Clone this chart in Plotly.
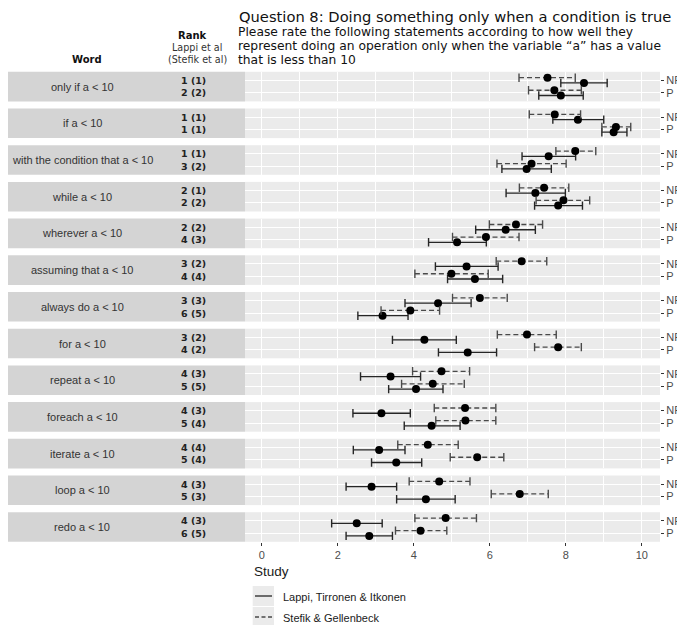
import plotly.graph_objects as go
from plotly.subplots import make_subplots

# ---------------- data ----------------
words = ["only if a < 10", "if a < 10", "with the condition that a < 10", "while a < 10",
         "wherever a < 10", "assuming that a < 10", "always do a < 10", "for a < 10",
         "repeat a < 10", "foreach a < 10", "iterate a < 10", "loop a < 10", "redo a < 10"]
rank_np = ["1 (1)", "1 (1)", "1 (1)", "2 (1)", "2 (2)", "3 (2)", "3 (3)", "3 (2)",
           "4 (3)", "4 (3)", "4 (4)", "4 (3)", "4 (3)"]
rank_p = ["2 (2)", "1 (1)", "3 (2)", "2 (2)", "4 (3)", "4 (4)", "6 (5)", "4 (2)",
          "5 (5)", "5 (4)", "5 (4)", "5 (3)", "6 (5)"]
conditions = ["NP", "P"]
studies = ["Lappi, Tirronen & Itkonen", "Stefik & Gellenbeck"]

# Stefik & Gellenbeck (dashed)
stefik_np_mean = [7.52, 7.71, 8.25, 7.43, 6.69, 6.84, 5.74, 6.98, 4.73, 5.35, 4.37, 4.67, 4.84]
stefik_np_lo   = [6.77, 7.04, 7.74, 6.78, 5.99, 6.17, 5.02, 6.20, 3.97, 4.54, 3.58, 3.88, 4.03]
stefik_np_hi   = [8.25, 8.39, 8.79, 8.08, 7.39, 7.50, 6.46, 7.75, 5.47, 6.16, 5.17, 5.48, 5.65]
stefik_p_mean  = [7.70, 9.32, 7.10, 7.94, 5.90, 4.99, 3.91, 7.80, 4.50, 5.36, 5.67, 6.79, 4.18]
stefik_p_lo    = [7.02, 8.95, 6.19, 7.22, 5.02, 4.03, 3.14, 7.18, 3.68, 4.58, 4.96, 6.04, 3.52]
stefik_p_hi    = [8.41, 9.71, 8.01, 8.63, 6.77, 5.96, 4.68, 8.41, 5.33, 6.16, 6.37, 7.54, 4.87]
# Lappi, Tirronen & Itkonen (solid)
lappi_np_mean  = [8.48, 8.32, 7.55, 7.20, 6.42, 5.39, 4.64, 4.28, 3.39, 3.15, 3.09, 2.89, 2.50]
lappi_np_lo    = [7.87, 7.66, 6.85, 6.43, 5.63, 4.57, 3.77, 3.44, 2.60, 2.40, 2.41, 2.22, 1.84]
lappi_np_hi    = [9.09, 9.00, 8.26, 7.99, 7.20, 6.22, 5.51, 5.12, 4.18, 3.91, 3.77, 3.55, 3.17]
lappi_p_mean   = [7.87, 9.26, 6.97, 7.80, 5.14, 5.61, 3.18, 5.42, 4.06, 4.47, 3.54, 4.32, 2.83]
lappi_p_lo     = [7.29, 8.95, 6.32, 7.18, 4.39, 4.89, 2.53, 4.65, 3.34, 3.75, 2.89, 3.55, 2.22]
lappi_p_hi     = [8.46, 9.61, 7.62, 8.44, 5.91, 6.34, 3.85, 6.18, 4.77, 5.22, 4.21, 5.09, 3.44]

x_ticks = [0, 2, 4, 6, 8, 10]

# ---------------- layout constants ----------------
PAGE_OFF = 8            # default body margin of the html page
W, H = 685 - PAGE_OFF, 625 - PAGE_OFF
n = len(words)
TOP0, PITCH, PH = 71.8, 36.7, 29.6
X0, X1 = 245, 660
YR = [0.32, 2.68]
OFF = 0.21
cond_y = {"NP": 2, "P": 1}

SOLID_COL = "#262626"
DASH_COL = "#4a4a4a"
DASH = "5px,3px"


def py(px):
    return 1 - (px - PAGE_OFF) / H


def pxx(px):
    return (px - PAGE_OFF) / W


fig = make_subplots(rows=n, cols=1, shared_xaxes=True, vertical_spacing=0.01)

series = {
    ("Stefik", "NP"): (stefik_np_lo, stefik_np_mean, stefik_np_hi),
    ("Stefik", "P"): (stefik_p_lo, stefik_p_mean, stefik_p_hi),
    ("Lappi", "NP"): (lappi_np_lo, lappi_np_mean, lappi_np_hi),
    ("Lappi", "P"): (lappi_p_lo, lappi_p_mean, lappi_p_hi),
}

for k in range(n):
    row = k + 1
    for study, off, col, dash in [("Lappi", -OFF, SOLID_COL, "solid"), ("Stefik", OFF, DASH_COL, DASH)]:
        lx, ly, cx, cy, mx, my = [], [], [], [], [], []
        for c in conditions:
            lo, mean, hi = series[(study, c)]
            yv = cond_y[c] + off
            lx += [lo[k], hi[k], None]
            ly += [yv, yv, None]
            cx += [lo[k], hi[k]]
            cy += [yv, yv]
            mx.append(mean[k])
            my.append(yv)
        fig.add_trace(go.Scatter(x=lx, y=ly, mode="lines",
                                 line=dict(color=col, width=1.3, dash=dash),
                                 showlegend=False, hoverinfo="skip"), row=row, col=1)
        fig.add_trace(go.Scatter(x=cx, y=cy, mode="markers",
                                 marker=dict(symbol="line-ns", size=6,
                                             line=dict(color=col, width=1.4)),
                                 showlegend=False, hoverinfo="skip"), row=row, col=1)
        fig.add_trace(go.Scatter(x=mx, y=my, mode="markers",
                                 marker=dict(symbol="circle", size=8, color="black"),
                                 showlegend=False), row=row, col=1)

shapes = []
annotations = []

for k in range(n):
    top = TOP0 + PITCH * k
    bot = top + PH
    yname = "yaxis" if k == 0 else f"yaxis{k+1}"
    xname = "xaxis" if k == 0 else f"xaxis{k+1}"
    fig.layout[yname].update(
        domain=[py(bot), py(top)], range=YR, tickvals=[1, 2], ticktext=["P", "NP"],
        side="right", ticks="outside", ticklen=3, tickcolor="#333333", tickwidth=1,
        tickfont=dict(family="Liberation Sans, Arial", size=11, color="#4d4d4d"),
        showgrid=True, gridcolor="white", gridwidth=1.3, zeroline=False,
        showline=False, fixedrange=True)
    last = (k == n - 1)
    fig.layout[xname].update(
        domain=[pxx(X0), pxx(X1)], range=[-0.44, 10.48],
        tickvals=x_ticks, ticktext=[str(v) for v in x_ticks],
        showgrid=True, gridcolor="white", gridwidth=1.3, zeroline=False,
        minor=dict(dtick=1, tick0=0, showgrid=True, gridcolor="white", gridwidth=0.6),
        showticklabels=last, ticks="outside" if last else "", ticklen=3,
        tickcolor="#333333", tickwidth=1,
        tickfont=dict(family="Liberation Sans, Arial", size=11, color="#4d4d4d"),
        showline=False, fixedrange=True)
    # label panel
    shapes.append(dict(type="rect", xref="paper", yref="paper",
                       x0=pxx(3), x1=pxx(X0), y0=py(bot), y1=py(top),
                       fillcolor="#d4d4d4", line=dict(width=0), layer="below"))
    yref = "y" if k == 0 else f"y{k+1}"
    annotations.append(dict(xref="paper", yref=yref, x=pxx(82), y=1.5, text=words[k],
                            showarrow=False, xanchor="center", yanchor="middle",
                            font=dict(family="Liberation Sans, Arial", size=11, color="#333333")))
    annotations.append(dict(xref="paper", yref=yref, x=pxx(193), y=2, text=rank_np[k],
                            showarrow=False, xanchor="center", yanchor="middle",
                            font=dict(family="DejaVu Sans", size=9.5, color="#222222", weight="bold")))
    annotations.append(dict(xref="paper", yref=yref, x=pxx(193), y=1, text=rank_p[k],
                            showarrow=False, xanchor="center", yanchor="middle",
                            font=dict(family="DejaVu Sans", size=9.5, color="#222222", weight="bold")))

# headers
annotations.append(dict(xref="paper", yref="paper", x=pxx(87), y=py(59), text="<b>Word</b>",
                        showarrow=False, xanchor="center", yanchor="middle",
                        font=dict(family="DejaVu Sans", size=10, color="#111111")))
annotations.append(dict(xref="paper", yref="paper", x=pxx(192), y=py(35.5), text="<b>Rank</b>",
                        showarrow=False, xanchor="center", yanchor="middle",
                        font=dict(family="DejaVu Sans", size=10, color="#111111")))
annotations.append(dict(xref="paper", yref="paper", x=pxx(197), y=py(47.5), text="Lappi et al",
                        showarrow=False, xanchor="center", yanchor="middle",
                        font=dict(family="DejaVu Sans", size=9.6, color="#333333")))
annotations.append(dict(xref="paper", yref="paper", x=pxx(198), y=py(59.5), text="(Stefik et al)",
                        showarrow=False, xanchor="center", yanchor="middle",
                        font=dict(family="DejaVu Sans", size=9.6, color="#333333")))

# title and subtitle
annotations.append(dict(xref="paper", yref="paper", x=pxx(237), y=py(16.8),
                        text="Question 8: Doing something only when a condition is true",
                        showarrow=False, xanchor="left", yanchor="middle",
                        font=dict(family="DejaVu Sans", size=14.7, color="#111111")))
sub_lines = ["Please rate the following statements according to how well they",
             "represent doing an operation only when the variable \u201ca\u201d has a value",
             "that is less than 10"]
for i, line in enumerate(sub_lines):
    annotations.append(dict(xref="paper", yref="paper", x=pxx(236), y=py(32.3 + 14.0 * i),
                            text=line, showarrow=False, xanchor="left", yanchor="middle",
                            font=dict(family="DejaVu Sans", size=12.3, color="#111111")))

# legend (manual)
annotations.append(dict(xref="paper", yref="paper", x=pxx(252), y=py(571.5), text="Study",
                        showarrow=False, xanchor="left", yanchor="middle",
                        font=dict(family="Liberation Sans, Arial", size=13.5, color="#1a1a1a")))
for i, (label, col, dash) in enumerate([(studies[0], SOLID_COL, "solid"), (studies[1], DASH_COL, "dash")]):
    yc = 596 + 21 * i
    shapes.append(dict(type="rect", xref="paper", yref="paper",
                       x0=pxx(252.7), x1=pxx(274), y0=py(yc + 10), y1=py(yc - 10),
                       fillcolor="#ebebeb", line=dict(width=0)))
    shapes.append(dict(type="line", xref="paper", yref="paper",
                       x0=pxx(255), x1=pxx(272), y0=py(yc), y1=py(yc),
                       line=dict(color=col, width=1.3, dash=("4px,2.5px" if dash == "dash" else "solid"))))
    annotations.append(dict(xref="paper", yref="paper", x=pxx(281), y=py(yc + 0.5), text=label,
                            showarrow=False, xanchor="left", yanchor="middle",
                            font=dict(family="Liberation Sans, Arial", size=11, color="#1a1a1a")))

fig.update_layout(
    width=W, height=H, margin=dict(l=0, r=0, t=0, b=0),
    paper_bgcolor="white", plot_bgcolor="#ebebeb",
    shapes=shapes, annotations=annotations, showlegend=False,
)

fig.write_html("out.html")
